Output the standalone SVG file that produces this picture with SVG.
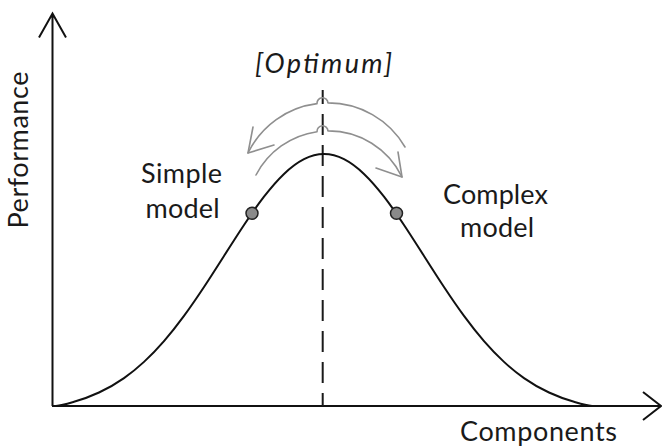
<svg xmlns="http://www.w3.org/2000/svg" width="662" height="447" viewBox="0 0 662 447">
<style>
.lbl{font-family:Lato,"Open Sans","Liberation Sans",sans-serif;font-size:27px;fill:#1a1a1a;text-anchor:middle}
.ax{fill:none;stroke:#111;stroke-width:2}
.gr{fill:none;stroke:#8f8f8f;stroke-width:1.6;stroke-linejoin:round;stroke-linecap:round}
.dot{fill:#8a8a8a;stroke:#222;stroke-width:1.5}
</style>
<rect width="662" height="447" fill="#fff"/>
<g id="axes">
<path class="ax" d="M52.5,406 V13 M39,37.5 L52.5,13.5 L66,37.5"/>
<path class="ax" d="M52,406 H661 M643,392 L661,406 L643,420"/>
</g>
<g id="connectors">
<line x1="322.7" y1="90" x2="322.7" y2="406" stroke="#1a1a1a" stroke-width="2" stroke-dasharray="21 10" stroke-dashoffset="7"/>
<path id="curve" fill="none" stroke="#111" stroke-width="2" d="M56,406 C62,405.28 68,403.48 74,401.78 C82.33,399.41 90.67,396.39 99,392.52 C107.33,388.65 115.67,383.93 124,378.09 C130.67,373.42 137.33,368.02 144,361.87 C150.67,355.72 157.33,348.8 164,341.11 C170.67,333.42 177.33,324.97 184,315.89 C190.67,306.81 197.33,297.09 204,287 C210.67,276.91 217.33,266.45 224,255.97 C230.67,245.49 237.33,235.02 244,224.98 C250.67,214.95 257.33,205.35 264,196.69 C270.67,188.03 277.33,180.31 284,173.93 C290.67,167.55 297.33,162.52 304,159.13 C310.67,155.74 317.33,154 324,154 C330.67,154 337.33,155.74 344,159.13 C350.67,162.52 357.33,167.55 364,173.93 C370.67,180.31 377.33,188.03 384,196.69 C390.67,205.35 397.33,214.95 404,224.98 C410.67,235.02 417.33,245.49 424,255.97 C430.67,266.45 437.33,276.91 444,287 C450.67,297.09 457.33,306.81 464,315.89 C470.67,324.97 477.33,333.42 484,341.11 C490.67,348.8 497.33,355.72 504,361.87 C510.67,368.02 517.33,373.42 524,378.09 C532.33,383.93 540.67,388.65 549,392.52 C557.33,396.39 565.67,399.41 574,401.78 C580,403.48 586,405.28 592,406"/>
<path class="gr" d="M248,153 A89 89 0 0 1 317,103.6 A5.5 5.5 0 0 1 328,102.9 A89 89 0 0 1 405,147"/>
<path class="gr" d="M253,127 L248,153 L274,145"/>
<path class="gr" d="M256,175 A81.6 81.6 0 0 1 317,131.7 A5.5 5.5 0 0 1 328,130.9 A81.6 81.6 0 0 1 402,177"/>
<path class="gr" d="M398,152 L402,177 L376,168"/>
</g>
<g id="simple-model">
<circle class="dot" cx="252" cy="213.3" r="6"/>
<text class="lbl" x="181.5" y="183" textLength="81">Simple</text>
<text class="lbl" x="182.5" y="218" textLength="74">model</text>
</g>
<g id="complex-model">
<circle class="dot" cx="396.5" cy="213.3" r="6"/>
<text class="lbl" x="495.5" y="204" textLength="105">Complex</text>
<text class="lbl" x="497" y="237" textLength="74">model</text>
</g>
<g id="optimum">
<text class="lbl" x="323.5" y="73" font-style="italic" font-size="29" textLength="137">[Optimum]</text>
</g>
<g id="labels">
<text class="lbl" x="538.5" y="441" textLength="157">Components</text>
<text class="lbl" transform="translate(27.5,150) rotate(-90)" textLength="157">Performance</text>
</g>
</svg>
